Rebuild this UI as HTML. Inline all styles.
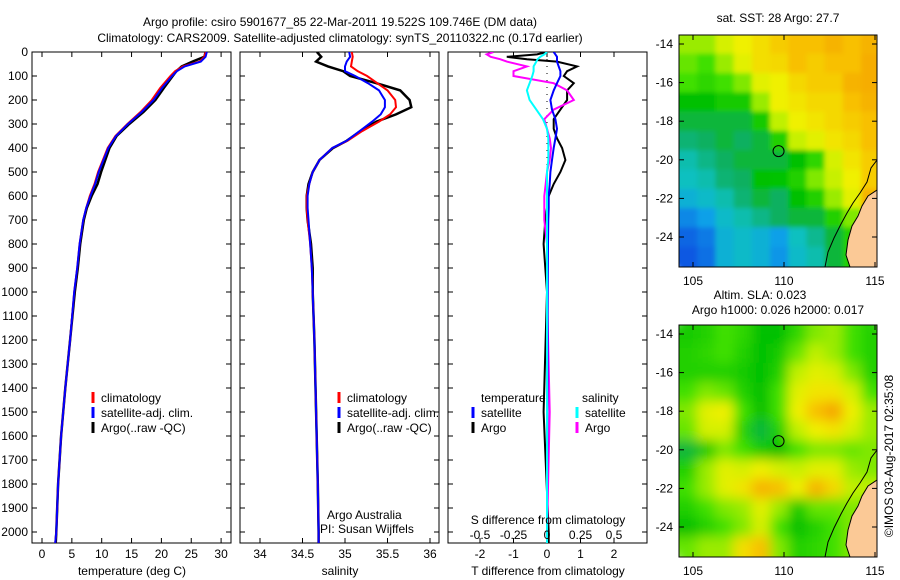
<!DOCTYPE html>
<html><head><meta charset="utf-8"><style>
body{margin:0;background:#fff;}
svg{display:block;font-family:"Liberation Sans",sans-serif;}
text{font-size:12px;fill:#000;}
</style></head><body>
<svg id="chart" width="900" height="580" viewBox="0 0 900 580" xmlns="http://www.w3.org/2000/svg">
<defs>
<clipPath id="c1"><rect x="32" y="52" width="199" height="491"/></clipPath>
<clipPath id="c2"><rect x="240" y="52" width="199" height="491"/></clipPath>
<clipPath id="c3"><rect x="448" y="52" width="199" height="491"/></clipPath>
<clipPath id="m1"><rect x="679" y="35" width="198" height="232"/></clipPath>
<clipPath id="m2"><rect x="679" y="325" width="198" height="232"/></clipPath>
<filter id="blur" x="-5%" y="-5%" width="110%" height="110%"><feGaussianBlur stdDeviation="6"/></filter>
<filter id="blur2" x="-5%" y="-5%" width="110%" height="110%"><feGaussianBlur stdDeviation="2.5"/></filter>
</defs>
<g id="root"></g>
</svg>
<script>
// ---- profile data ----
const depthT=[0,20,40,60,80,100,150,200,250,300,350,400,450,500,550,600,650,700,800,900,1000,1200,1400,1600,1800,2000,2050];
const tempClim=[27.4,27.2,26.4,23.6,22.3,21.5,19.8,18.4,16.5,14.3,12.3,11.0,10.2,9.4,8.8,8.0,7.4,6.9,6.3,5.9,5.4,4.7,3.9,3.2,2.7,2.4,2.2];
const tempSat=[27.6,27.4,26.6,23.9,22.6,21.8,20.1,18.7,16.7,14.4,12.4,11.1,10.3,9.5,8.9,8.1,7.4,6.9,6.3,5.9,5.4,4.7,3.9,3.2,2.7,2.4,2.2];
const tempArgo=[27.4,27.2,25.2,23.4,22.5,21.9,20.4,19.0,17.0,14.6,12.5,11.3,10.6,9.9,9.3,8.3,7.5,7.0,6.4,6.0,5.5,4.7,3.9,3.2,2.7,2.4,2.3];
const depthS=[0,20,40,60,80,100,130,160,200,230,260,290,330,370,400,450,500,550,600,650,700,800,900,1000,1200,1500,1800,2000,2050];
const salClim=[35.08,35.09,35.08,35.07,35.15,35.26,35.38,35.50,35.59,35.60,35.53,35.40,35.20,35.03,34.85,34.70,34.62,34.58,34.55,34.55,34.56,34.59,34.61,34.62,34.64,34.66,34.68,34.69,34.69];
const salSat=[35.05,35.06,35.02,35.0,35.0,35.12,35.27,35.40,35.47,35.47,35.42,35.32,35.17,35.02,34.85,34.70,34.62,34.58,34.56,34.56,34.57,34.59,34.61,34.62,34.64,34.66,34.68,34.69,34.69];
const salArgo=[34.67,34.72,34.66,34.80,34.98,35.06,35.37,35.65,35.76,35.78,35.60,35.37,35.18,35.02,34.86,34.70,34.62,34.57,34.55,34.55,34.56,34.60,34.62,34.62,34.64,34.66,34.68,34.69,34.69];
const depthD=[0,10,20,30,40,60,80,100,130,160,200,240,280,320,360,400,450,500,550,600,650,700,800,1000,1500,2000,2050];
const dTArgo=[0.0,-0.3,-1.2,-0.6,0.3,0.9,0.6,0.5,0.8,0.6,0.6,0.4,0.2,0.2,0.3,0.45,0.55,0.4,0.2,0.05,0.0,-0.05,-0.1,0.0,-0.1,0.05,0.05];
const dTSat=[0.2,0.25,0.3,0.3,0.3,0.35,0.4,0.4,0.3,0.2,0.1,0.15,0.25,0.3,0.25,0.2,0.15,0.1,0.08,0.05,0.05,0.04,0.03,0.02,0.01,0.0,0.0];
const dSArgo=[-0.4,-0.45,-0.42,-0.35,-0.3,-0.15,-0.25,-0.25,0.05,0.15,0.2,0.05,-0.02,0.0,0.02,0.03,0.02,0.0,-0.01,-0.02,-0.02,-0.02,0.0,0.0,0.02,0.0,0.0];
const dSSat=[0.0,-0.02,-0.05,-0.07,-0.08,-0.1,-0.1,-0.11,-0.13,-0.15,-0.13,-0.08,-0.03,0.0,0.01,0.01,0.01,0.0,0.0,0.0,0.0,0.0,0.0,0.0,0.0,0.0,0.0];
const depthTicks=[0,100,200,300,400,500,600,700,800,900,1000,1100,1200,1300,1400,1500,1600,1700,1800,1900,2000];
const tempTicks=[0,5,10,15,20,25,30];
const salTicks=[34,34.5,35,35.5,36];
const salTickLabels=["34","34.5","35","35.5","36"];
const dTTicks=[-2,-1,0,1,2];
const dSTicks=[-0.5,-0.25,0,0.25,0.5];
const dSTickLabels=["-0.5","-0.25","0","0.25","0.5"];
// ---- map data (rows lat -14..-25, cols lon 104.2..115) ----
const latTicks=[-14,-16,-18,-20,-22,-24];
const lonTicks=[105,110,115];
const sstGrid=[
[.62,.62,.68,.72,.75,.78,.80,.80,.82,.80,.82],
[.58,.55,.62,.70,.75,.76,.80,.78,.80,.80,.83],
[.55,.52,.55,.60,.70,.72,.76,.78,.78,.82,.83],
[.45,.45,.48,.48,.62,.72,.74,.76,.76,.80,.82],
[.42,.42,.42,.42,.48,.65,.72,.74,.76,.78,.80],
[.38,.40,.42,.40,.42,.50,.66,.70,.74,.76,.80],
[.32,.36,.40,.42,.42,.42,.45,.52,.68,.74,.78],
[.30,.32,.38,.40,.45,.46,.50,.60,.66,.72,.78],
[.25,.28,.32,.38,.42,.40,.45,.50,.62,.70,.82],
[.15,.20,.28,.32,.36,.40,.42,.42,.50,.60,.70],
[.08,.12,.25,.28,.25,.20,.30,.35,.42,.50,.60],
[.05,.10,.25,.28,.25,.18,.28,.32,.42,.50,.60]];
const slaGrid=[
[.48,.50,.55,.52,.45,.45,.52,.60,.62,.55,.50],
[.50,.52,.55,.50,.45,.48,.58,.65,.62,.55,.50],
[.50,.50,.50,.48,.45,.50,.65,.70,.68,.60,.50],
[.55,.60,.58,.50,.45,.55,.70,.74,.74,.68,.55],
[.60,.70,.72,.55,.45,.55,.72,.80,.84,.72,.62],
[.58,.68,.68,.50,.42,.50,.65,.72,.74,.68,.62],
[.42,.48,.60,.55,.48,.45,.55,.60,.60,.58,.60],
[.50,.62,.70,.68,.72,.68,.66,.70,.70,.62,.60],
[.55,.62,.70,.74,.82,.80,.72,.82,.76,.65,.65],
[.50,.55,.60,.62,.70,.62,.48,.58,.58,.60,.60],
[.45,.50,.55,.60,.68,.55,.45,.50,.55,.60,.60],
[.58,.62,.62,.75,.80,.60,.50,.52,.55,.60,.60]];
const floatLon=109.7, floatLat=-19.55;

const NS='http://www.w3.org/2000/svg';
const root=document.getElementById('root');
function mk(tag,attrs,parent){const e=document.createElementNS(NS,tag);for(const k in attrs)e.setAttribute(k,attrs[k]);(parent||root).appendChild(e);return e;}
function txt(x,y,s,anchor,parent,extra){const e=mk('text',Object.assign({x:x,y:y,'text-anchor':anchor||'start'},extra||{}),parent);e.textContent=s;return e;}
const yD=d=>52+d*0.24;
const xT=t=>42+t*5.97;
const xS=s=>260+(s-34)*85;
const xdT=v=>547+v*33.5;
const xdS=v=>547+v*134;

function line(depths,vals,fx,color,clip,name,w){
  let p=depths.map((d,i)=>(i?'L':'M')+fx(vals[i]).toFixed(1)+','+yD(d).toFixed(1)).join('');
  const e=mk('path',{d:p,fill:'none',stroke:color,'stroke-width':w||2,'clip-path':'url(#'+clip+')'});
  
  
}
function frame(x0,name){
  const r=mk('rect',{x:x0,y:52,width:199,height:491,fill:'none',stroke:'#000','stroke-width':1});
  
  
  depthTicks.forEach(d=>{const y=yD(d);mk('line',{x1:x0,y1:y,x2:x0+5,y2:y,stroke:'#000'});mk('line',{x1:x0+199,y1:y,x2:x0+194,y2:y,stroke:'#000'});});
}
function xticks(vals,fx){vals.forEach(v=>{const x=fx(v);mk('line',{x1:x,y1:52,x2:x,y2:57,stroke:'#000'});mk('line',{x1:x,y1:543,x2:x,y2:538,stroke:'#000'});});}
function legendBar(x,y,color,label){mk('line',{x1:x,y1:y-10,x2:x,y2:y+1,stroke:color,'stroke-width':3});const t=txt(x+8,y,label);}

let t=txt(340,26,'Argo profile: csiro 5901677_85 22-Mar-2011 19.522S 109.746E (DM data)','middle',root,{'font-size':'13'});

t=txt(340,42,'Climatology: CARS2009. Satellite-adjusted climatology: synTS_20110322.nc (0.17d earlier)','middle',root,{'font-size':'13'});


frame(32,'temperature-panel');
xticks(tempTicks,xT);
depthTicks.forEach(d=>{const e=txt(28,yD(d)+4,String(d),'end');});
tempTicks.forEach(v=>{const e=txt(xT(v),558,String(v),'middle');});
t=txt(132,575,'temperature (deg C)','middle');
line(depthT,tempArgo,xT,'#000','c1','temp-argo-line',2.5);
line(depthT,tempClim,xT,'#f00','c1','temp-clim-line');
line(depthT,tempSat,xT,'#00f','c1','temp-sat-line');
legendBar(93,402,'#f00','climatology');legendBar(93,417,'#00f','satellite-adj. clim.');legendBar(93,432,'#000','Argo(..raw -QC)');

frame(240,'salinity-panel');
xticks(salTicks,xS);
salTicks.forEach((v,i)=>{const e=txt(xS(v),558,salTickLabels[i],'middle');});
t=txt(340,575,'salinity','middle');
line(depthS,salArgo,xS,'#000','c2','sal-argo-line',2.5);
line(depthS,salClim,xS,'#f00','c2','sal-clim-line');
line(depthS,salSat,xS,'#00f','c2','sal-sat-line');
legendBar(339,402,'#f00','climatology');legendBar(339,417,'#00f','satellite-adj. clim.');legendBar(339,432,'#000','Argo(..raw -QC)');
t=txt(327,519,'Argo Australia');
t=txt(320,533,'PI: Susan Wijffels');

frame(448,'difference-panel');
xticks(dTTicks,xdT);
mk('line',{x1:547,y1:52,x2:547,y2:543,stroke:'#000','stroke-dasharray':'1,6'});
line(depthD,dTArgo,xdT,'#000','c3','dT-argo-line');
line(depthD,dSArgo,xdS,'#f0f','c3','dS-argo-line');
line(depthD,dTSat,xdT,'#00f','c3','dT-sat-line');
line(depthD,dSSat,xdS,'#0ff','c3','dS-sat-line');
dTTicks.forEach(v=>{const e=txt(xdT(v),558,String(v),'middle');});
dSTicks.forEach((v,i)=>{const e=txt(xdS(v),539,dSTickLabels[i],'middle');});
t=txt(548,524,'S difference from climatology','middle');
t=txt(548,575,'T difference from climatology','middle');
t=txt(481,402,'temperature');
t=txt(582,402,'salinity');
legendBar(473,417,'#00f','satellite');legendBar(473,432,'#000','Argo');
legendBar(577,417,'#0ff','satellite');legendBar(577,432,'#f0f','Argo');

const stops=[[0,[16,64,224]],[.2,[16,160,232]],[.3,[16,192,192]],[.4,[16,176,96]],[.45,[0,192,0]],[.55,[64,224,0]],[.65,[192,240,0]],[.72,[240,240,0]],[.8,[248,192,0]],[.9,[240,128,0]]];
function cmap(v){for(let i=1;i<stops.length;i++){if(v<=stops[i][0]){const a=stops[i-1],b=stops[i],f=(v-a[0])/(b[0]-a[0]);return 'rgb('+a[1].map((c,k)=>Math.round(c+(b[1][k]-c)*f)).join(',')+')';}}return 'rgb(240,128,0)';}
function drawMap(grid,top,clip,filt,name,title1,title2){
  const lonX=l=>693+(l-105)*18.2;
  const latY=la=>top+9+(-14-la)*19.3;
  const g=mk('g',{'clip-path':'url(#'+clip+')'});
  
  
  const inner=mk('g',{filter:'url(#'+filt+')'},g);
  const cw=18.2,ch=19.3;
  grid.forEach((row,r)=>row.forEach((v,c)=>{
    const x=lonX(104.23+c), y=latY(-13.5-r);
    mk('rect',{x:x.toFixed(1),y:y.toFixed(1),width:cw+0.6,height:ch+0.6,fill:cmap(v)},inner);
    if(c==row.length-1){mk('rect',{x:x+cw,y:y,width:30,height:ch+0.6,fill:cmap(v)},inner);}
    if(c==0){mk('rect',{x:x-30,y:y,width:30,height:ch+0.6,fill:cmap(v)},inner);}
    if(r==0){mk('rect',{x:x,y:y-30,width:cw+0.6,height:30,fill:cmap(v)},inner);}
    if(r==grid.length-1){mk('rect',{x:x,y:y+ch,width:cw+0.6,height:30,fill:cmap(v)},inner);}
  }));
  const o=top-35;
  mk('polygon',{points:[[877,190],[868,196],[862,206],[858,216],[852,226],[848,240],[846,255],[850,267],[877,267]].map(p=>p[0]+','+(p[1]+o)).join(' '),fill:'#fbc996',stroke:'#000','stroke-width':1},g);
  mk('polyline',{points:[[877,160],[871,168],[867,182],[860,193],[853,203],[847,213],[841,224],[834,238],[828,252],[825,267]].map(p=>p[0]+','+(p[1]+o)).join(' '),fill:'none',stroke:'#000','stroke-width':1},g);
  const c=mk('circle',{cx:lonX(floatLon),cy:latY(floatLat),r:5.5,fill:'none',stroke:'#000','stroke-width':1});
  
  
  mk('rect',{x:679,y:top,width:198,height:232,fill:'none',stroke:'#000'});
  latTicks.forEach(la=>{const y=latY(la);mk('line',{x1:679,y1:y,x2:684,y2:y,stroke:'#000'});mk('line',{x1:877,y1:y,x2:872,y2:y,stroke:'#000'});const e=txt(673,y+4,String(la),'end');});
  lonTicks.forEach(l=>{const x=lonX(l);mk('line',{x1:x,y1:top,x2:x,y2:top+5,stroke:'#000'});mk('line',{x1:x,y1:top+232,x2:x,y2:top+227,stroke:'#000'});const e=txt(x,top+250,String(l),'middle');});
  if(title2){let e=txt(760,top-26,title1,'middle');e=txt(778,top-11,title2,'middle');}
  else{let e=txt(778,top-13,title1,'middle');}
}
drawMap(sstGrid,35,'m1','blur2','sst-map','sat. SST: 28 Argo: 27.7');
drawMap(slaGrid,325,'m2','blur','sla-map','Altim. SLA: 0.023','Argo h1000: 0.026 h2000: 0.017');
t=txt(0,0,'©IMOS 03-Aug-2017 02:35:08','middle',root,{transform:'translate(893,456) rotate(-90)'});

</script>
</body></html>
